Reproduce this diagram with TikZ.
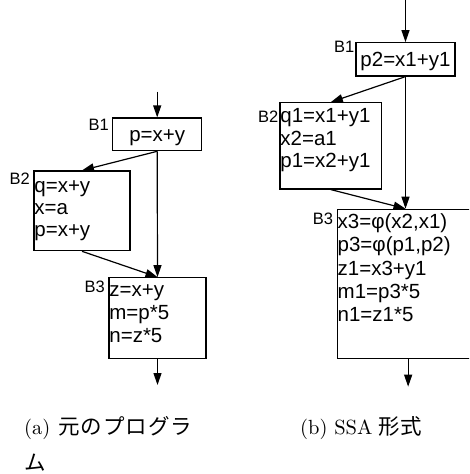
\documentclass[tikz,border=0pt]{standalone}
\usepackage{fontspec}
\newfontfamily\arial{Liberation Sans}
\newfontfamily\capfont{lmroman10-regular}[Extension=.otf]
\newfontfamily\jp{Noto Sans CJK JP}
\usetikzlibrary{arrows.meta}

\tikzset{
  blk/.style={draw, line width=1.2pt, inner sep=0pt},
  code/.style={font=\arial\fontsize{20.5}{#1}\selectfont, inner sep=0pt,
               anchor=north west, align=left},
  lbl/.style={font=\arial\fontsize{16.5}{18}\selectfont, inner sep=0pt, anchor=base east},
  flow/.style={line width=1.2pt, -{Triangle[length=12pt,width=8pt]}},
  captxt/.style={font=\capfont\fontsize{20.5}{24}\selectfont, inner sep=0pt, anchor=base west},
}
\newcommand{\jpc}[1]{{\jp\fontsize{21.5}{24}\selectfont #1}}

\begin{document}
\begin{tikzpicture}[x=1pt, y=-1pt]
\useasboundingbox (0,0) rectangle (469,474);
\clip (0,0) rectangle (469,474);

% ---------- original program ----------
\node[blk, minimum width=89pt, minimum height=32.7pt, text height=15pt, text depth=0.5pt,
      font=\arial\fontsize{20.5}{22}\selectfont] (L1) at (157.2,134.35) {p=x+y};
\node[blk, minimum width=96pt, minimum height=79.7pt] (L2) at (82,210.85) {};
\node[blk, minimum width=97pt, minimum height=80.6pt] (L3) at (157.5,318) {};

\node[code=21.7] (L2t) at ([shift={(0.8,7.1)}]L2.north west)
  {\strut q=x+y\\\strut x=a\\\strut p=x+y};
\node[code=23] (L3t) at ([shift={(0.8,3.2)}]L3.north west)
  {\strut z=x+y\\\strut m=p*5\\\strut n=z*5};

\node[lbl] (L1l) at ([shift={(-3.2,12.7)}]L1.north west) {B1};
\node[lbl] (L2l) at ([shift={(-3.5,14)}]L2.north west) {B2};
\node[lbl] (L3l) at ([shift={(-3.5,15.6)}]L3.north west) {B3};

\coordinate (Lin) at (157.2,91.7);
\coordinate (Lout) at (157.5,385);
\draw[flow] (Lin) -- (L1.north);
\draw[flow] (L1.south) -- (L2.north);
\draw[flow] (L1.south) -- (L3.north);
\draw[flow] (L2.south) -- (L3.north);
\draw[flow] (L3.south) -- (Lout);

% ---------- SSA form ----------
\node[blk, minimum width=99pt, minimum height=33.3pt, text height=15pt, text depth=0.5pt,
      font=\arial\fontsize{20.5}{22}\selectfont] (R1) at (405.5,59.35) {p2=x1+y1};
\node[blk, minimum width=101.7pt, minimum height=86.3pt] (R2) at (330.85,145.85) {};
% B3 runs past the right edge of the picture
\node[blk, minimum width=157.7pt, minimum height=149pt] (R3) at (416.15,283.8) {};

\node[code=22.8] (R2t) at ([shift={(0.8,4)}]R2.north west)
  {\strut q1=x1+y1\\\strut x2=a1\\\strut p1=x2+y1};
\node[code=23.1] (R3t) at ([shift={(0.8,3.8)}]R3.north west)
  {\strut x3=φ(x2,x1)\\\strut p3=φ(p1,p2)\\\strut z1=x3+y1\\\strut m1=p3*5\\\strut n1=z1*5};

\node[lbl] (R1l) at ([shift={(-0.8,10.8)}]R1.north west) {B1};
\node[lbl] (R2l) at ([shift={(-0.8,20)}]R2.north west) {B2};
\node[lbl] (R3l) at ([shift={(-3.5,15.7)}]R3.north west) {B3};

\coordinate (Rin) at (405.5,-2);
\coordinate (R3in) at (R1.south |- R3.north);
\coordinate (Rout) at (408.15,386.7);
\draw[flow] (Rin) -- (R1.north);
\draw[flow] (R1.south) -- (R2.north);
\draw[flow] (R1.south) -- (R3in);
\draw[flow] (R2.south) -- (R3in);
\draw[flow] (Rout |- R3.south) -- (Rout);

% ---------- captions ----------
\node[captxt] (capa1) at (24,434)
  {(a)\hspace{8pt}\jpc{元\hspace{1pt}の\hspace{1pt}プ\hspace{1pt}ロ\hspace{1pt}グ\hspace{1pt}ラ}};
\node[captxt] (capa2) at (24,470) {\jpc{ム}};
\node[captxt] (capb) at (300,434) {(b)\hspace{6.8pt}SSA\hspace{6pt}\jpc{形式}};
\end{tikzpicture}
\end{document}
